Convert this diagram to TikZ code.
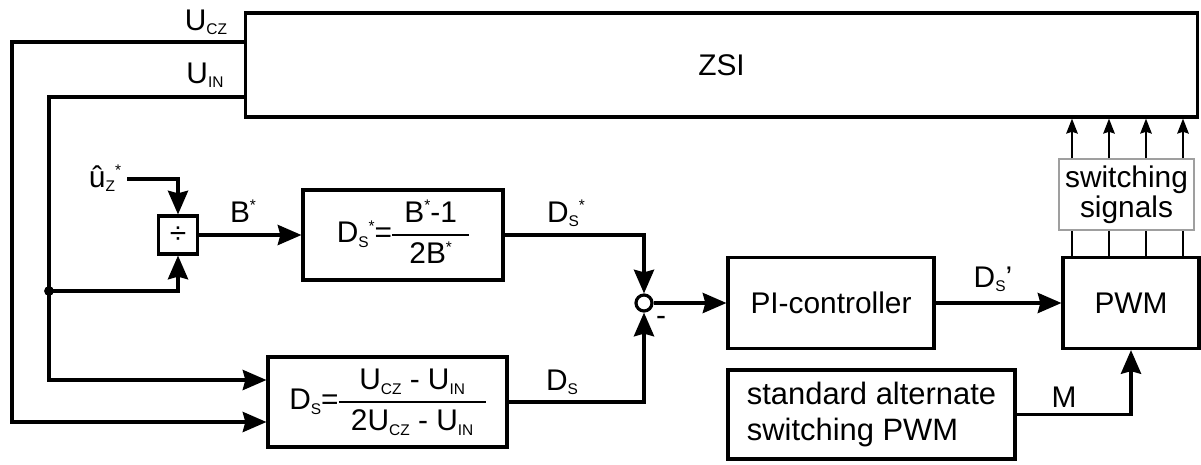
\documentclass[tikz,border=0pt]{standalone}
\usepackage{fontspec}
\setmainfont{Liberation Sans}
\usetikzlibrary{arrows.meta}
\newcommand\sbs[1]{\raisebox{-2.8pt}{\fontsize{8.8}{8.8}\selectfont #1}}
\newcommand\str{\raisebox{6.5pt}{\fontsize{8.8}{8.8}\selectfont *}}
\newcommand\frc[2]{\ensuremath{\vcenter{\hbox{\setlength\arrayrulewidth{1.1pt}\renewcommand\arraystretch{1.12}\begin{tabular}{@{\hspace{7pt}}c@{\hspace{7pt}}}\strut #1\\\hline\strut #2\end{tabular}}}}}
\begin{document}
\begin{tikzpicture}[x=0.02cm,y=-0.02cm,
  every node/.style={font=\fontsize{17}{20}\selectfont},
  blk/.style={draw, line width=1.8pt, inner sep=0pt},
  ln/.style={line width=1.8pt},
  arr/.style={ln, -{Stealth[length=13.5pt,width=11.5pt,inset=1.5pt]}},
  sarr/.style={line width=1.2pt, -{Stealth[length=8.5pt,width=6.5pt,inset=1pt]}},
  lbl/.style={anchor=base, inner sep=0pt}]
\useasboundingbox (0,0) rectangle (1201,464);

% blocks
\node[blk, minimum width=19.06cm, minimum height=2.08cm] (ZSI) at (721.5,65) {ZSI};
\node[blk, minimum width=0.78cm, minimum height=0.76cm] (div) at (178,235) {÷};
\node[blk, minimum width=4cm, minimum height=1.8cm] (DSs) at (403,235) {D\sbs{S}\str=\frc{B\str-1}{2B\str}};
\node[blk, minimum width=4.78cm, minimum height=1.8cm] (DS) at (387.5,402) {D\sbs{S}=\frc{U\sbs{CZ} - U\sbs{IN}}{2U\sbs{CZ} - U\sbs{IN}}};
\node[circle, draw, line width=1.8pt, minimum size=0.32cm, inner sep=0pt] (sum) at (644,303) {};
\node[blk, minimum width=4.12cm, minimum height=1.82cm] (PI) at (831,303) {PI-controller};
\node[blk, minimum width=2.72cm, minimum height=1.82cm] (PWM) at (1131,303) {PWM};
\node[draw=gray!75, line width=0.6pt, minimum width=2.7cm, minimum height=1.42cm, inner sep=0pt, align=center, font=\fontsize{17}{15.5}\selectfont] (SW) at (1126.5,194.5) {switching\\signals};
\node[blk, minimum width=5.74cm, minimum height=1.78cm, align=left, font=\fontsize{17.6}{21}\selectfont] (SAS) at (871.5,414.5) {standard alternate\\switching PWM};

% coordinates
\coordinate (ucz) at (245,42);
\coordinate (uin) at (245,97);
\coordinate (c1) at (12,422);
\coordinate (c2) at (49,380);
\coordinate (jn) at (49,291);
\coordinate (uz) at (127,179);
\coordinate (s1) at (1072,0);
\coordinate (s2) at (1109,0);
\coordinate (s3) at (1146,0);
\coordinate (s4) at (1183,0);

% connectors
\draw[arr] (ucz) -| (c1) -- (DS.west |- c1);
\draw[arr] (uin) -| (c2) -- (DS.west |- c2);
\fill (jn) circle (2.8pt);
\draw[arr] (jn) -| (div.south);
\draw[arr] (uz) -| (div.north);
\draw[arr] (div.east) -- (DSs.west);
\draw[arr] (DSs.east) -| (sum.north);
\draw[arr] (DS.east) -| (sum.south);
\draw[arr] (sum.east) -- (PI.west);
\draw[arr] (PI.east) -- (PWM.west);
\draw[arr] (SAS.east) -| (PWM.south);
\foreach \s in {s1,s2,s3,s4}{
  \draw[line width=1.2pt] (PWM.north -| \s) -- (SW.south -| \s);
  \draw[sarr] (SW.north -| \s) -- (ZSI.south -| \s);
}

% labels
\node[lbl] (lucz) at (206,30) {U\sbs{CZ}};
\node[lbl] (luin) at (205,83) {U\sbs{IN}};
\node[lbl] (luz) at (105,187) {û\sbs{Z}\str};
\node[lbl] (lb) at (243,222) {B\str};
\node[lbl] (lds1) at (566,222) {D\sbs{S}\str};
\node[lbl] (lds2) at (562,390) {D\sbs{S}};
\node[lbl] (ldsp) at (993,287) {D\sbs{S}’};
\node[lbl] (lm) at (1064,407) {M};
\node[lbl] (lminus) at (661,325) {-};
\end{tikzpicture}
\end{document}
